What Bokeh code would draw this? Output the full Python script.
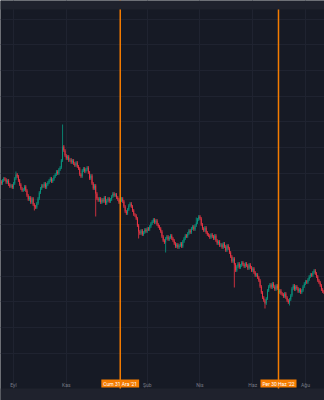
import pandas as pd
from bokeh.plotting import figure
from bokeh.models import Range1d, FixedTicker, Span, Label, ColumnDataSource, BoxAnnotation
from bokeh.embed import file_html
from bokeh.resources import INLINE

# ---- data ----
first_date = "2021-08-17"
first_open = 63.5
closes = [
    63.8, 63.4, 64.0, 64.4, 64.2, 63.6, 64.0, 63.2, 62.8, 63.0,
    62.6, 63.4, 64.4, 65.2, 64.8, 64.0, 63.2, 62.4, 62.0, 62.2,
    62.8, 62.0, 61.0, 60.2, 60.6, 59.6, 60.4, 59.2, 58.8, 58.6,
    59.4, 60.4, 61.6, 62.4, 63.0, 62.8, 63.4, 62.6, 63.2, 63.6,
    64.0, 64.4, 63.8, 64.2, 64.8, 65.2, 65.8, 65.4, 66.2, 66.6,
    68.0, 70.8, 70.0, 69.0, 68.4, 68.8, 68.0, 68.2, 67.6, 68.0,
    67.4, 67.0, 67.6, 66.8, 66.4, 65.2, 64.8, 66.0, 66.4, 65.8,
    66.2, 66.6, 65.6, 64.4, 65.0, 63.4, 62.4, 63.0, 61.4, 60.4,
    60.0, 60.4, 59.6, 60.2, 59.8, 60.6, 59.4, 60.0, 60.4, 59.8,
    60.2, 60.8, 61.4, 61.0, 61.2, 60.6, 60.2, 59.6, 60.0, 60.4,
    59.8, 58.8, 57.8, 57.4, 58.2, 59.0, 59.4, 58.8, 58.0, 57.2,
    57.0, 56.4, 55.0, 53.8, 53.4, 54.0, 53.2, 53.6, 54.2, 53.8,
    54.4, 54.2, 54.8, 55.4, 55.8, 56.2, 55.6, 56.0, 55.2, 54.8,
    54.4, 53.8, 52.8, 52.0, 51.6, 52.4, 52.8, 52.2, 52.6, 53.0,
    52.4, 52.0, 51.4, 50.8, 51.2, 50.6, 51.0, 51.4, 50.8, 51.8,
    52.4, 53.0, 52.8, 53.4, 54.0, 53.6, 54.4, 54.8, 54.2, 55.0,
    55.6, 56.2, 56.8, 56.4, 55.2, 54.4, 54.0, 54.6, 53.6, 53.2,
    53.0, 52.6, 53.2, 52.8, 52.4, 53.0, 52.0, 51.4, 51.8, 51.0,
    51.2, 50.6, 51.4, 50.8, 50.0, 51.0, 50.4, 49.6, 48.8, 47.8,
    48.4, 47.2, 46.0, 46.8, 47.4, 46.6, 47.0, 47.6, 47.2, 46.8,
    47.4, 47.0, 46.4, 47.2, 46.6, 46.0, 46.4, 45.6, 45.0, 45.2,
    44.6, 44.0, 42.8, 41.6, 40.6, 40.0, 39.4, 40.4, 42.0, 42.8,
    43.2, 42.6, 43.4, 42.8, 42.2, 43.0, 42.4, 41.6, 42.0, 41.4,
    41.2, 40.8, 41.4, 40.6, 40.0, 39.6, 40.2, 41.0, 42.4, 43.0,
    42.2, 42.8, 42.4, 41.8, 42.2, 41.6, 42.0, 42.8, 43.4, 43.8,
    43.6, 44.2, 44.8, 45.2, 45.0, 45.6, 46.0, 45.4, 44.8, 44.0,
    43.6, 43.0, 42.2, 41.8, 41.6,
]
wick = 0.3
spike_high = {51: 75.2, 13: 65.8, 160: 56.6}
spike_low = {28: 58.0, 78: 56.8, 113: 52.4, 135: 49.6, 191: 42.6, 216: 38.4, 236: 39.0}

tick_months = ["2021-09-01", "2021-11-01", "2022-02-01", "2022-04-01", "2022-06-01", "2022-08-01"]
tick_labels = ["Eyl", "Kas", "Şub", "Nis", "Haz", "Ağu"]
marker_dates = ["2021-12-31", "2022-06-30"]
marker_labels = ["Cum 31 Ara '21", "Per 30 Haz '22"]
grid_prices = [96.28, 91.14, 86.0, 80.86, 75.72, 70.58, 65.44, 60.3, 55.16,
               50.02, 44.88, 39.74, 34.6, 29.46]

# ---- styling ----
BG = "#161a25"
BAND = "#1f222d"
GRID = "#1f2330"
UP = "#089981"
DOWN = "#f23645"
ORANGE = "#f57c00"
TXT = "#787b86"
X_START, X_END = 0.4, 264.5
Y_TOP, Y_BOTTOM = 100.0, 20.0          # whole canvas height in price units
PANE_TOP, PANE_BOTTOM = 98.2, 22.4     # header band / footer band limits
AXIS_AT, LABEL_AT = 24.0, 23.4

dates = pd.bdate_range(first_date, periods=len(closes))
idx = list(range(len(closes)))
opens = [first_open] + closes[:-1]
highs, lows, colors, tops, bots = [], [], [], [], []
for i, (o, c) in enumerate(zip(opens, closes)):
    hi = max(o, c) + wick
    lo = min(o, c) - wick
    hi = max(hi, spike_high.get(i, hi))
    lo = min(lo, spike_low.get(i, lo))
    highs.append(hi)
    lows.append(lo)
    colors.append(UP if c >= o else DOWN)
    tops.append(max(o, c))
    bots.append(min(o, c) if abs(c - o) > 0.05 else max(o, c) - 0.1)

src = ColumnDataSource(dict(x=idx, high=highs, low=lows, top=tops, bottom=bots, color=colors))

p = figure(width=324, height=400, output_backend="svg", toolbar_location=None,
           x_range=Range1d(X_START, X_END), y_range=Range1d(Y_BOTTOM, Y_TOP),
           y_axis_location=None,
           min_border_left=0, min_border_right=0, min_border_top=0, min_border_bottom=0)
p.background_fill_color = BG
p.border_fill_color = BG
p.outline_line_color = None

# horizontal price grid (the price scale itself is not shown)
p.ygrid.ticker = FixedTicker(ticks=grid_prices)
p.ygrid.grid_line_color = GRID
p.xgrid.grid_line_color = GRID

p.segment(x0="x", y0="high", x1="x", y1="low", color="color", line_width=0.8, source=src)
p.vbar(x="x", width=0.75, top="top", bottom="bottom", fill_color="color", line_color=None, source=src)

tick_idx = [int(dates.searchsorted(pd.Timestamp(m))) for m in tick_months]
p.xaxis.ticker = FixedTicker(ticks=tick_idx)
p.xaxis.major_label_overrides = {t: l for t, l in zip(tick_idx, tick_labels)}
p.xaxis.fixed_location = AXIS_AT
p.xaxis.axis_line_color = None
p.xaxis.major_tick_line_color = None
p.xaxis.minor_tick_line_color = None
p.xaxis.major_tick_out = 0
p.xaxis.major_tick_in = 0
p.xaxis.major_label_standoff = 1
p.xaxis.major_label_text_font = "Roboto"
p.xaxis.major_label_text_font_size = "5px"
p.xaxis.major_label_text_color = TXT

marker_idx = [int(dates.searchsorted(pd.Timestamp(d))) for d in marker_dates]
for mi in marker_idx:
    p.add_layout(Span(location=mi, dimension="height", line_color=ORANGE, line_width=1.5))

# mask the 1px left edge of the pane
p.add_layout(BoxAnnotation(right=X_START + 0.9, fill_color=BG, fill_alpha=1.0, line_color=None, level="underlay"))
p.add_layout(BoxAnnotation(bottom=PANE_TOP, fill_color=BAND, fill_alpha=1.0, line_color=None))
p.add_layout(BoxAnnotation(top=PANE_BOTTOM, fill_color=BAND, fill_alpha=1.0, line_color=None))

for mi, lab in zip(marker_idx, marker_labels):
    p.add_layout(Label(x=mi, y=LABEL_AT, text=lab,
                       text_align="center", text_baseline="middle",
                       text_font="Roboto", text_font_size="5px", text_color="white",
                       background_fill_color=ORANGE, padding=(2, 1)))

open("out.html", "w").write(file_html(p, INLINE))
